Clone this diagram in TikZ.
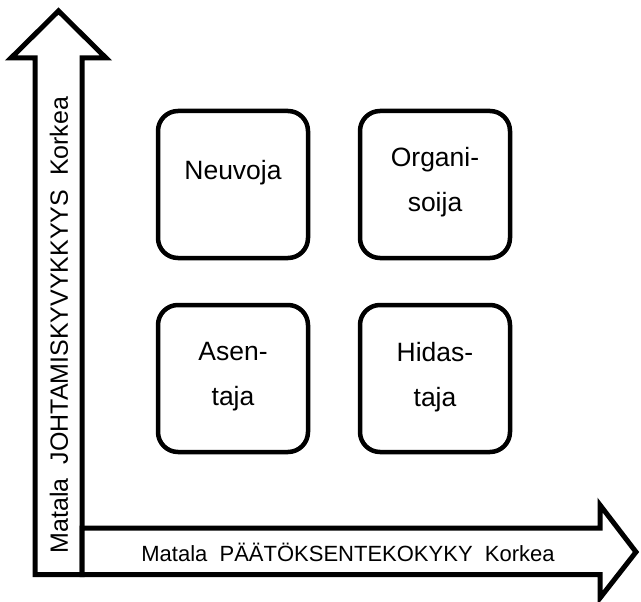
\documentclass[tikz,border=0pt]{standalone}
\usepackage{fontspec}
\setmainfont{Liberation Sans}
\begin{document}
\begin{tikzpicture}[x=1pt,y=-1pt,
  axisarrow/.style={draw=black,line width=5pt,line join=miter,fill=white},
  cell/.style={draw=black,line width=4.5pt,rounded corners=20pt,fill=white},
  celltext/.style={font=\fontsize{26.5}{45}\selectfont,align=center,text=black},
  axistext/.style={font=\fontsize{22}{24}\selectfont,text=black}]
\useasboundingbox (0,0) rectangle (641,602);
% vertical axis arrow
\draw[axisarrow] (35,574.5) -- (35,58) -- (11,58) -- (58.5,11) -- (106,58) -- (82,58) -- (82,574.5) -- cycle;
% horizontal axis arrow
\draw[axisarrow] (82,528) -- (600,528) -- (600,505) -- (636,552) -- (600,598) -- (600,574.5) -- (82,574.5) -- cycle;
% axis labels
\node[axistext,rotate=90,font=\fontsize{25}{26}\selectfont] (ylab) at (59,325) {Matala\ \ JOHTAMISKYVYKKYYS\ \ Korkea};
\node[axistext] (xlab) at (348,552) {Matala\ \ PÄÄTÖKSENTEKOKYKY\ \ Korkea};
% quadrant boxes
\draw[cell] (158,111) rectangle (308,258);
\draw[cell] (360,111) rectangle (510,258);
\draw[cell] (158,305) rectangle (308,452);
\draw[cell] (360,305) rectangle (510,452);
\node[celltext] (neuvoja) at (233,173) {Neuvoja};
\node[celltext] (organisoija) at (435,182) {Organi-\\soija};
\node[celltext] (asentaja) at (233,377) {Asen-\\taja};
\node[celltext] (hidastaja) at (435,377) {Hidas-\\taja};
\end{tikzpicture}
\end{document}
